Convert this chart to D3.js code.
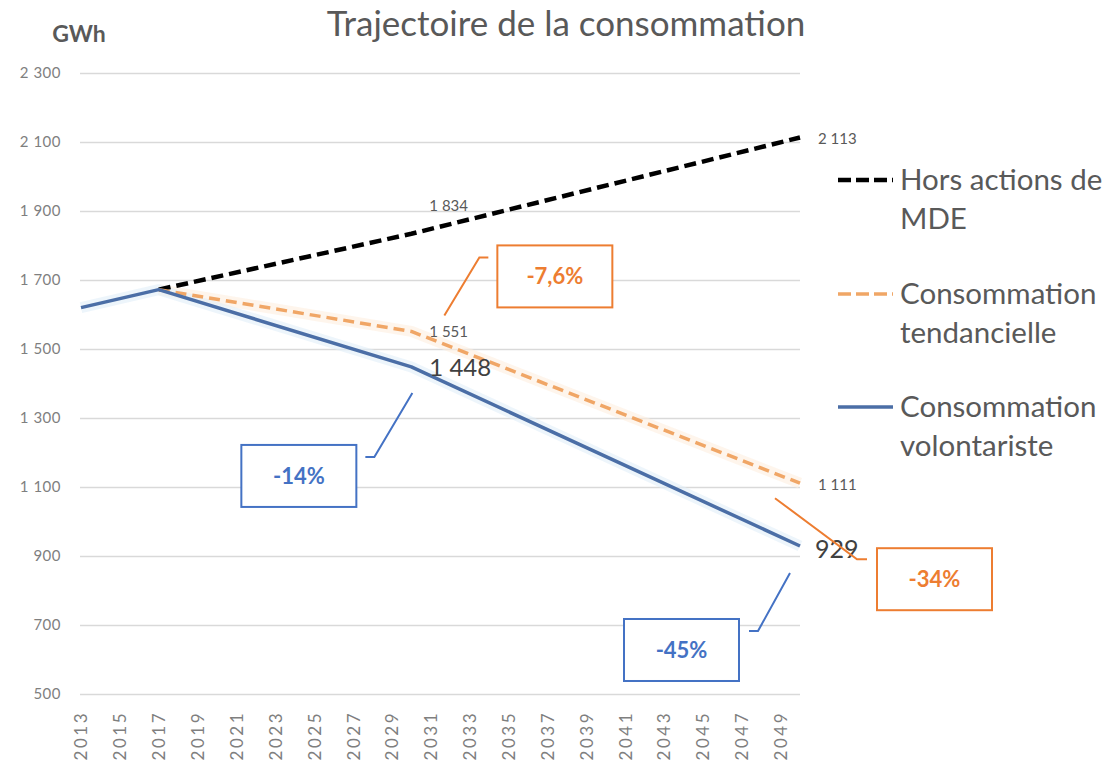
<!DOCTYPE html>
<html>
<head>
<meta charset="utf-8">
<script src="https://cdn.jsdelivr.net/npm/d3@7"></script>
<style>
  body { margin: 0; background: #fff; }
  text { font-family: Lato, "Open Sans", sans-serif; }
</style>
</head>
<body>
<svg id="chart" width="1112" height="762"></svg>
<script>
// categories (one per year) and tick labels
const years = [2013, 2014, 2015, 2016, 2017, 2018, 2019, 2020, 2021, 2022, 2023, 2024, 2025,
  2026, 2027, 2028, 2029, 2030, 2031, 2032, 2033, 2034, 2035, 2036, 2037, 2038, 2039,
  2040, 2041, 2042, 2043, 2044, 2045, 2046, 2047, 2048, 2049, 2050];
const tickYears = [2013, 2015, 2017, 2019, 2021, 2023, 2025, 2027, 2029, 2031, 2033,
  2035, 2037, 2039, 2041, 2043, 2045, 2047, 2049];
const yTicks = [500, 700, 900, 1100, 1300, 1500, 1700, 1900, 2100, 2300];

// series values at the key years
const keyYears = [2013, 2017, 2030, 2050];
const horsMDE = [null, 1672, 1834, 2113];
const tendancielle = [null, 1672, 1551, 1111];
const volontariste = [1620, 1672, 1448, 929];

const legendLabels = [["Hors actions de", "MDE"], ["Consommation", "tendancielle"], ["Consommation", "volontariste"]];
const variations = ["-7,6%", "-14%", "-34%", "-45%"];

const svg = d3.select("#chart");
const fmt = v => d3.format(",")(v).replace(/,/g, " ");

const x = d3.scalePoint().domain(years).range([81, 800]);
const y = d3.scaleLinear().domain([500, 2300]).range([694, 73]);

const black = "#000000", orange = "#f0a666", blue = "#4b6ea6";
const boxOrange = "#ed7d31", boxBlue = "#4472c4";

// title and unit
svg.append("text")
  .attr("x", 566).attr("y", 36)
  .attr("text-anchor", "middle")
  .style("font-size", "35px")
  .style("fill", "#595959")
  .text("Trajectoire de la consommation");

svg.append("text")
  .attr("x", 79).attr("y", 42)
  .attr("text-anchor", "middle")
  .style("font-size", "23px")
  .style("font-weight", "bold")
  .style("fill", "#595959")
  .text("GWh");

// grid + y axis labels
const yAxis = d3.axisLeft(y).tickValues(yTicks).tickSize(-(800 - 80)).tickFormat(fmt).tickPadding(19);
svg.append("g")
  .attr("transform", "translate(80,0)")
  .call(yAxis)
  .call(g => g.select(".domain").remove())
  .call(g => g.selectAll("line").attr("stroke", "#d9d9d9").attr("stroke-width", 1.5))
  .call(g => g.selectAll("text")
    .style("font-family", "Lato, sans-serif")
    .style("font-size", "15px")
    .style("letter-spacing", "0.5px")
    .style("fill", "#7f7f7f"));

// x axis labels (rotated)
const xAxis = d3.axisBottom(x).tickValues(tickYears).tickSize(0).tickPadding(0);
svg.append("g")
  .attr("transform", "translate(0,711)")
  .call(xAxis)
  .call(g => g.select(".domain").remove())
  .call(g => g.selectAll("text")
    .attr("transform", "rotate(-90)")
    .attr("text-anchor", "end")
    .attr("x", 0).attr("y", 0).attr("dy", "0.35em")
    .style("font-family", "Lato, sans-serif")
    .style("font-size", "17px")
    .style("letter-spacing", "2.5px")
    .style("fill", "#7f7f7f"));

// lines
const toPoints = vals => keyYears.map((yr, i) => ({ year: yr, value: vals[i] })).filter(d => d.value != null);
const line = d3.line().x(d => x(d.year)).y(d => y(d.value));

const series = [
  { vals: horsMDE, color: black, width: 4.5, dash: "12,6", glow: null },
  { vals: tendancielle, color: orange, width: 3.5, dash: "11,6", glow: "#fdeedf" },
  { vals: volontariste, color: blue, width: 3.5, dash: null, glow: "#e1eef9" }
];

series.forEach(s => {
  if (s.glow) {
    svg.append("path")
      .datum(toPoints(s.vals))
      .attr("fill", "none")
      .attr("stroke", s.glow)
      .attr("stroke-width", 11)
      .attr("stroke-linejoin", "round")
      .attr("opacity", 0.6)
      .attr("d", line);
  }
});
series.forEach(s => {
  svg.append("path")
    .datum(toPoints(s.vals))
    .attr("fill", "none")
    .attr("stroke", s.color)
    .attr("stroke-width", s.width)
    .attr("stroke-dasharray", s.dash)
    .attr("stroke-linejoin", "round")
    .attr("d", line);
});

// data labels
function dataLabel(vals, idx, dx, dy, size, color) {
  svg.append("text")
    .attr("x", x(keyYears[idx]) + dx)
    .attr("y", y(vals[idx]) + dy)
    .attr("dy", "0.35em")
    .style("font-size", size + "px")
    .style("fill", color)
    .text(fmt(vals[idx]));
}
dataLabel(horsMDE, 2, 18, -28, 15, "#595959");
dataLabel(horsMDE, 3, 18, 1, 15, "#595959");
dataLabel(tendancielle, 2, 18, 0, 15, "#595959");
dataLabel(tendancielle, 3, 18, 2, 15, "#595959");
dataLabel(volontariste, 2, 18, 1, 24, "#404040");
dataLabel(volontariste, 3, 15, 3, 25, "#404040");

// legend
const legendY = [180, 294, 407];
series.forEach((s, i) => {
  const g = svg.append("g").attr("transform", `translate(0,${legendY[i]})`);
  g.append("line")
    .attr("x1", 838).attr("x2", 893)
    .attr("stroke", s.color)
    .attr("stroke-width", s.width)
    .attr("stroke-dasharray", s.dash ? "13,5" : null);
  g.selectAll("text")
    .data(legendLabels[i])
    .enter()
    .append("text")
    .attr("x", 900)
    .attr("y", (d, j) => j * 39)
    .attr("dy", "0.35em")
    .style("font-size", "29.5px")
    .style("fill", "#595959")
    .text(d => d);
});

// callouts: anchored to a data point, box and leader offset from it
const callouts = [
  { text: variations[0], color: boxOrange, ax: x(2030), ay: y(tendancielle[2]),
    box: [86, -86], leader: [[33, -16], [68, -74], [77, -74]] },
  { text: variations[1], color: boxBlue, ax: x(2030), ay: y(volontariste[2]),
    box: [-170, 78], leader: [[1, 26], [-37, 90], [-46, 90]] },
  { text: variations[2], color: boxOrange, ax: x(2050), ay: y(tendancielle[3]),
    box: [77, 65], leader: [[-25, 15], [57, 76], [67, 76]] },
  { text: variations[3], color: boxBlue, ax: x(2050), ay: y(volontariste[3]),
    box: [-176, 73], leader: [[-10, 27], [-42, 85], [-51, 85]] }
];

callouts.forEach(c => {
  const g = svg.append("g").attr("transform", `translate(${c.ax},${c.ay})`);
  g.append("path")
    .attr("d", d3.line()(c.leader))
    .attr("fill", "none")
    .attr("stroke", c.color)
    .attr("stroke-width", 2);
  g.append("rect")
    .attr("x", c.box[0]).attr("y", c.box[1])
    .attr("width", 115).attr("height", 62)
    .attr("fill", "#fff")
    .attr("stroke", c.color)
    .attr("stroke-width", 2);
  g.append("text")
    .attr("x", c.box[0] + 57.5).attr("y", c.box[1] + 31)
    .attr("dy", "0.35em")
    .attr("text-anchor", "middle")
    .style("font-size", "22px")
    .style("font-weight", "bold")
    .style("fill", c.color)
    .text(c.text);
});
</script>
</body>
</html>
